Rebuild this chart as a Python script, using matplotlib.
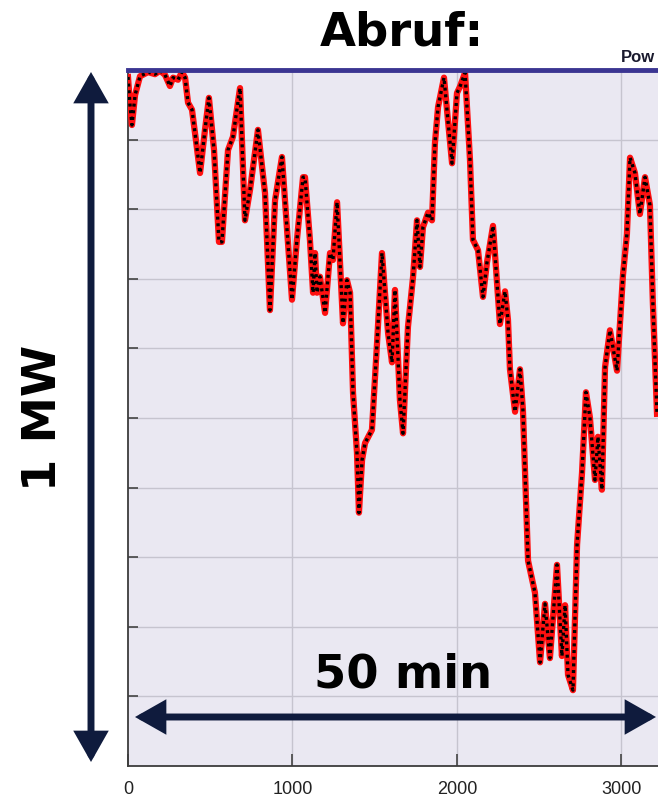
import matplotlib
matplotlib.use("Agg")
import matplotlib.pyplot as plt
from matplotlib.patches import FancyArrowPatch

# Zeit [s] und Leistung [MW]
time_s = [0, 12, 24, 43, 73, 122, 164, 195, 225, 255, 274, 304, 328, 347, 365,
          389, 413, 438, 468, 492, 523, 553, 571, 608, 638, 681, 711, 742, 790,
          833, 863, 894, 936, 967, 997, 1027, 1064, 1076, 1106, 1125, 1137,
          1149, 1167, 1198, 1228, 1246, 1271, 1307, 1331, 1350, 1368, 1392,
          1404, 1423, 1441, 1483, 1514, 1544, 1581, 1605, 1623, 1653, 1672,
          1702, 1733, 1757, 1775, 1793, 1824, 1848, 1866, 1885, 1921, 1945,
          1970, 2000, 2018, 2049, 2079, 2097, 2128, 2158, 2182, 2219, 2261,
          2292, 2310, 2322, 2353, 2383, 2401, 2432, 2474, 2505, 2535, 2565,
          2608, 2638, 2657, 2675, 2705, 2730, 2760, 2784, 2808, 2839, 2857,
          2881, 2900, 2930, 2973, 3009, 3033, 3052, 3082, 3112, 3143, 3173,
          3191, 3216]
power_mw = [0.990, 0.950, 0.921, 0.964, 0.991, 0.997, 0.994, 0.999, 0.993,
            0.977, 0.989, 0.986, 0.997, 0.989, 0.953, 0.943, 0.899, 0.852,
            0.914, 0.960, 0.885, 0.753, 0.753, 0.885, 0.904, 0.974, 0.784,
            0.828, 0.914, 0.823, 0.655, 0.813, 0.875, 0.770, 0.670, 0.756,
            0.846, 0.846, 0.756, 0.680, 0.737, 0.680, 0.703, 0.651, 0.737,
            0.727, 0.810, 0.636, 0.698, 0.680, 0.536, 0.450, 0.364, 0.440,
            0.464, 0.483, 0.608, 0.737, 0.622, 0.580, 0.684, 0.526, 0.478,
            0.631, 0.703, 0.784, 0.717, 0.774, 0.795, 0.784, 0.895, 0.947,
            0.989, 0.928, 0.866, 0.967, 0.976, 0.996, 0.871, 0.756, 0.741,
            0.674, 0.723, 0.776, 0.635, 0.682, 0.641, 0.570, 0.509, 0.570,
            0.511, 0.295, 0.249, 0.149, 0.233, 0.155, 0.289, 0.158, 0.231,
            0.131, 0.109, 0.318, 0.421, 0.537, 0.501, 0.411, 0.473, 0.397,
            0.573, 0.626, 0.568, 0.705, 0.764, 0.874, 0.852, 0.793, 0.846,
            0.806, 0.664, 0.506]

x_ticks = [0, 1000, 2000, 3000]
y_grid = [0.1, 0.2, 0.3, 0.4, 0.5, 0.6, 0.7, 0.8, 0.9]

navy = "#0f1b3d"
bold_font = "DejaVu Sans"

fig = plt.figure(figsize=(6.58, 8), dpi=100)
ax = fig.add_axes([128 / 658, 34 / 800, 530 / 658, 696 / 800])
ax.set_facecolor("#eae8f2")
ax.set_xlim(0, 3222)
ax.set_ylim(0, 1.0)

for v in x_ticks[1:]:
    ax.axvline(v, color="#c6c4cf", lw=1.0, zorder=1)
for v in y_grid:
    ax.axhline(v, color="#c6c4cf", lw=1.0, zorder=1)

ax.plot(time_s, power_mw, color="#ff1010", lw=4.5, zorder=3,
        solid_joinstyle="round")
ax.plot(time_s, power_mw, color="black", lw=2.4, ls=(0, (0.9, 1.1)), zorder=4)
ax.axhline(1.0, color="#3b3592", lw=3.5, zorder=5, clip_on=False)

ax.set_xticks(x_ticks)
ax.set_xticklabels([str(v) for v in x_ticks], fontfamily="Liberation Sans",
                   fontsize=13, color="#222222")
ax.set_yticks(y_grid)
ax.set_yticklabels([])
ax.tick_params(axis="x", direction="in", length=9, width=1.2,
               color="#444444", pad=11)
ax.tick_params(axis="y", direction="in", length=7, width=1.2,
               color="#444444")
for side in ["top", "right"]:
    ax.spines[side].set_visible(False)
for side in ["left", "bottom"]:
    ax.spines[side].set_color("#3c3c3c")
    ax.spines[side].set_linewidth(1.3)

fig.text(402 / 658, 1 - 33 / 800, "Abruf:", fontsize=33.5, fontweight="bold",
         family=bold_font, ha="center", va="center")
fig.text(403 / 658, 1 - 675 / 800, "50 min", fontsize=33.5, fontweight="bold",
         family=bold_font, ha="center", va="center", zorder=10)
fig.text(43 / 658, 1 - 418 / 800, "1 MW", fontsize=33.5, fontweight="bold",
         family=bold_font, ha="center", va="center", rotation=90)
fig.text(655 / 658, 1 - 58 / 800, "Pow", fontsize=12, fontweight="bold",
         family="Liberation Sans", color="#1a1a2e", ha="right", va="center")

arrow_style = "<|-|>,head_length=15,head_width=8.5"
fig.patches.append(FancyArrowPatch((91 / 658, 1 - 72 / 800),
                                   (91 / 658, 1 - 762 / 800),
                                   transform=fig.transFigure,
                                   arrowstyle=arrow_style, mutation_scale=1,
                                   color=navy, lw=5, shrinkA=0, shrinkB=0,
                                   joinstyle="miter"))
fig.patches.append(FancyArrowPatch((135 / 658, 1 - 717 / 800),
                                   (656 / 658, 1 - 717 / 800),
                                   transform=fig.transFigure,
                                   arrowstyle=arrow_style, mutation_scale=1,
                                   color=navy, lw=5, shrinkA=0, shrinkB=0,
                                   joinstyle="miter", zorder=10))

fig.savefig("out.png", dpi=100)
